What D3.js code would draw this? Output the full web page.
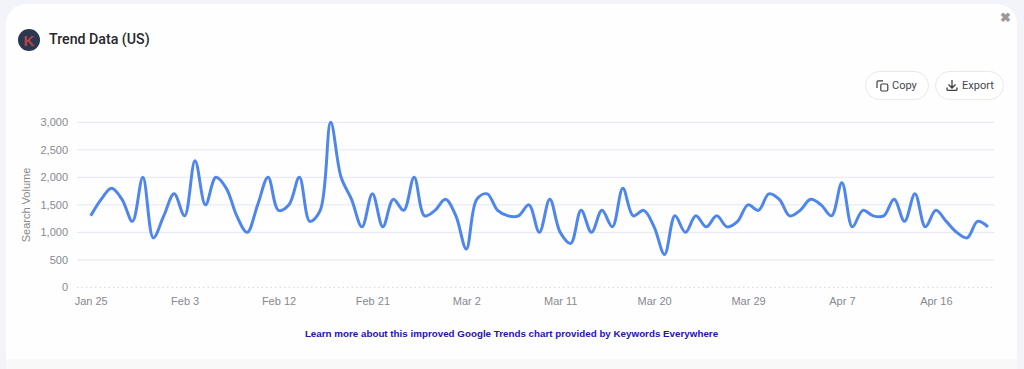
<!DOCTYPE html>
<html>
<head>
<meta charset="utf-8">
<script src="https://cdn.jsdelivr.net/npm/d3@7"></script>
<style>
html, body { margin: 0; padding: 0; background: #f2f4fa; }
svg { display: block; }
</style>
</head>
<body>
<svg width="1024" height="369"></svg>
<script>
const startDate = new Date(2023, 0, 25)
const volumes = [
    1300, 1600, 1800, 1600, 1200, 2000, 900, 1300, 1700, 1300,
    2300, 1500, 2000, 1800, 1300, 1000, 1500, 2000, 1400, 1500,
    2000, 1200, 1400, 3000, 2000, 1600, 1100, 1700, 1100, 1600,
    1400, 2000, 1300, 1400, 1600, 1300, 700, 1600, 1700, 1400,
    1300, 1300, 1500, 1000, 1600, 1000, 800, 1400, 1000, 1400,
    1100, 1800, 1300, 1400, 1100, 600, 1300, 1000, 1300, 1100,
    1300, 1100, 1200, 1500, 1400, 1700, 1600, 1300, 1400, 1600,
    1500, 1300, 1900, 1100, 1400, 1300, 1300, 1600, 1200, 1700,
    1100, 1400, 1200, 1000, 900, 1200, 1100
]
const yTicks = [0, 500, 1000, 1500, 2000, 2500, 3000]
const xTickDays = [0, 9, 18, 27, 36, 45, 54, 63, 72, 81]

const dayOf = i => d3.timeDay.offset(startDate, i)
const fontUi = 'Roboto, "Noto Sans", sans-serif'
const fontAxis = '"Liberation Sans", Arial, sans-serif'

const svg = d3.select('svg')

// panel, the bottom runs on into a paler band with square corners
svg.append('rect').attr('x', 6).attr('y', 4).attr('width', 1011).attr('height', 400)
    .attr('rx', 20).attr('fill', '#fefefe')
svg.append('rect').attr('x', 6).attr('y', 359).attr('width', 1011).attr('height', 10).attr('fill', '#f8f8f9')

// header
svg.append('circle').attr('cx', 29).attr('cy', 40).attr('r', 11).attr('fill', '#2b3650')
svg.append('text').attr('x', 29).attr('y', 45.5).attr('text-anchor', 'middle')
    .style('font', `bold 15px ${fontAxis}`).style('fill', '#b5493f').text('K')
svg.append('text').attr('x', 49).attr('y', 44)
    .style('font', `500 14.2px ${fontUi}`).style('fill', '#26272b').text('Trend Data (US)')
svg.append('text').attr('x', 1005).attr('y', 22).attr('text-anchor', 'middle')
    .style('font', `bold 13px ${fontAxis}`).style('fill', '#9a9a9a').text('✖')

// buttons
const button = (x, w, label, textX) => {
    svg.append('rect').attr('x', x + 0.5).attr('y', 71.5).attr('width', w).attr('height', 28)
        .attr('rx', 14).attr('fill', '#fff').attr('stroke', '#e6e9f2')
    svg.append('text').attr('x', textX).attr('y', 89)
        .style('font', `11px ${fontUi}`).style('fill', '#44464c').text(label)
}
button(865, 63, 'Copy', 892)
button(935, 68, 'Export', 962)

const copyIcon = svg.append('g').attr('fill', 'none').attr('stroke', '#3d3f45').attr('stroke-width', 1.2)
copyIcon.append('path').attr('d', 'M877 88V82q0-1.2 1.2-1.2H883')
copyIcon.append('rect').attr('x', 880.8).attr('y', 84).attr('width', 7).attr('height', 7).attr('rx', 1.2)
const exportIcon = svg.append('g').attr('fill', 'none').attr('stroke', '#3d3f45').attr('stroke-width', 1.3)
exportIcon.append('path').attr('d', 'M952 80V87.5M948.5 84.5l3.5 3.5 3.5-3.5M947 87.5v2q0 .8 .8 .8h8.4q.8 0 .8-.8v-2')

// chart
const x = d3.scaleTime([dayOf(0), dayOf(86)], [90.7, 988])
const y = d3.scaleLinear([0, 3000], [287.4, 122.3])

svg.append('g').selectAll('line').data(yTicks).enter().append('line')
    .attr('x1', 77).attr('x2', 994)
    .attr('y1', d => y(d)).attr('y2', d => y(d))
    .attr('stroke', d => d === 0 ? '#d5d8e0' : '#e3e7f3')
    .attr('stroke-dasharray', d => d === 0 ? '1.5 3' : null)

const yAxis = svg.append('g').attr('transform', 'translate(72,0)')
    .call(d3.axisLeft(y).tickValues(yTicks).tickSize(0).tickPadding(4).tickFormat(d3.format(',')))
yAxis.select('.domain').remove()
yAxis.selectAll('text').style('font', `11px ${fontAxis}`).style('fill', '#87898e')

const xAxis = svg.append('g').attr('transform', 'translate(0,294)')
    .call(d3.axisBottom(x).tickValues(xTickDays.map(dayOf)).tickSize(0).tickPadding(3)
        .tickFormat(d3.timeFormat('%b %-d')))
xAxis.select('.domain').remove()
xAxis.selectAll('text').style('font', `11px ${fontAxis}`).style('fill', '#87898e')

svg.append('text').attr('transform', 'translate(30,205) rotate(-90)').attr('text-anchor', 'middle')
    .style('font', `11px ${fontAxis}`).style('fill', '#87898e').text('Search Volume')

const line = d3.line().x((d, i) => x(dayOf(i))).y(d => y(d)).curve(d3.curveCatmullRom.alpha(0.5))
svg.append('path').datum(volumes).attr('d', line)
    .attr('fill', 'none').attr('stroke', '#4f86ec').attr('stroke-width', 3).attr('stroke-linejoin', 'round')

svg.append('text').attr('x', 511.5).attr('y', 337).attr('text-anchor', 'middle')
    .style('font', `bold 9.8px ${fontAxis}`).style('fill', '#2412b4')
    .text('Learn more about this improved Google Trends chart provided by Keywords Everywhere')
</script>
</body>
</html>
